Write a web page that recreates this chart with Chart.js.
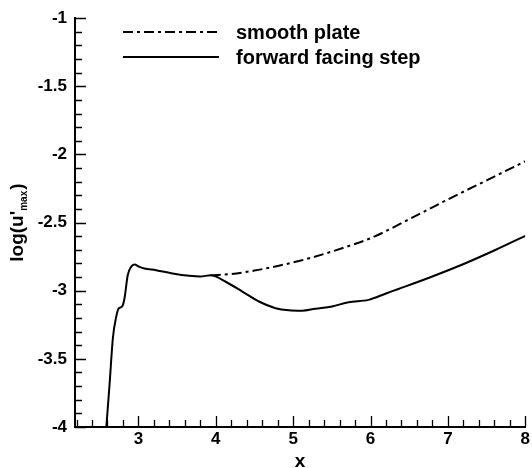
<!DOCTYPE html>
<html>
<head>
<meta charset="utf-8">
<script src="https://cdn.jsdelivr.net/npm/chart.js@4.4.1/dist/chart.umd.min.js"></script>
<style>
  body { margin: 0; background: #fff; }
  #c { display: block; }
</style>
</head>
<body>
<canvas id="c" width="532" height="468"></canvas>
<script>
// values
var stepX = [2.585, 2.627, 2.67, 2.713, 2.745, 2.79, 2.82, 2.862, 2.905, 2.948, 3.013, 3.077, 3.228, 3.442, 3.657, 3.8, 3.935,
             4.128, 4.343, 4.557, 4.772, 4.944, 5.116, 5.287, 5.502, 5.717, 5.974, 6.2, 6.36, 6.79, 7.219, 7.605, 8.0];
var stepY = [-4.0, -3.685, -3.345, -3.19, -3.13, -3.115, -3.055, -2.885, -2.825, -2.808, -2.825, -2.837, -2.849, -2.873, -2.89, -2.895, -2.887,
             -2.934, -3.006, -3.079, -3.128, -3.144, -3.147, -3.132, -3.115, -3.084, -3.067, -3.02, -2.987, -2.897, -2.8, -2.703, -2.597];

var smoothX = [3.935, 4.2, 4.5, 4.8, 5.1, 5.4, 5.7, 6.0, 6.5, 7.0, 7.5, 8.0];
var smoothY = [-2.887, -2.877, -2.852, -2.818, -2.778, -2.73, -2.675, -2.615, -2.475, -2.33, -2.19, -2.05];

var xTicks = [3, 4, 5, 6, 7, 8];
var yTicks = [-4, -3.5, -3, -2.5, -2, -1.5, -1];
var seriesNames = ['smooth plate', 'forward facing step'];

function toPoints(xs, ys) {
    return xs.map(function (x, i) { return {x: x, y: ys[i]}; });
}

var FONT = '"Liberation Sans", Arial, Helvetica, sans-serif';

// inward ticks, axis title with subscript, legend
var decor = {
    id: 'decor',
    afterDraw: function (chart) {
        var c = chart.ctx;
        var xs = chart.scales.x, ys = chart.scales.y;
        var a = chart.chartArea;
        c.save();
        c.strokeStyle = '#000';
        c.lineWidth = 1.3;
        c.beginPath();
        for (var i = 11; i <= 40; i++) {
            var v = i * 0.2;
            var px = Math.round(xs.getPixelForValue(v)) + 0.5;
            var len = (Math.abs(v - Math.round(v)) < 1e-6) ? 11 : 7;
            c.moveTo(px, a.bottom);
            c.lineTo(px, a.bottom - len);
        }
        for (var j = -40; j <= -10; j++) {
            var w = j / 10;
            var py = Math.round(ys.getPixelForValue(w)) + 0.5;
            var len2 = (Math.abs(w * 2 - Math.round(w * 2)) < 1e-6) ? 11 : 7;
            c.moveTo(a.left, py);
            c.lineTo(a.left + len2, py);
        }
        c.stroke();

        // y title: log(u'max)
        c.fillStyle = '#000';
        c.textBaseline = 'alphabetic';
        var big = 'bold 19px ' + FONT, small = 'bold 10px ' + FONT;
        c.font = big;
        var w1 = c.measureText("log(u'").width;
        var w3 = c.measureText(')').width;
        c.font = small;
        var w2 = c.measureText('max').width;
        var total = w1 + w2 + w3 + 1;
        c.translate(23, (a.top + a.bottom) / 2);
        c.rotate(-Math.PI / 2);
        var sx = -total / 2;
        c.font = big;
        c.fillText("log(u'", sx, 0);
        c.font = small;
        c.fillText('max', sx + w1, 4);
        c.font = big;
        c.fillText(')', sx + w1 + w2 + 1, 0);
        c.setTransform(1, 0, 0, 1, 0, 0);

        // legend
        c.font = 'bold 20px ' + FONT;
        c.textBaseline = 'middle';
        var rows = [32, 57];
        [0, 1].forEach(function (k, r) {
            var ds = chart.data.datasets[k];
            c.beginPath();
            c.lineWidth = 2;
            c.setLineDash(ds.borderDash || []);
            c.moveTo(123, rows[r]);
            c.lineTo(219, rows[r]);
            c.stroke();
            c.setLineDash([]);
            c.fillText(ds.label, 236, rows[r] + 1);
        });
        c.restore();
    }
};

new Chart(document.getElementById('c'), {
    type: 'line',
    data: {
        datasets: [
            {
                label: seriesNames[0],
                data: toPoints(smoothX, smoothY),
                borderColor: '#000',
                borderWidth: 2,
                borderDash: [10, 4, 3, 4],
                pointRadius: 0,
                cubicInterpolationMode: 'monotone',
                fill: false
            },
            {
                label: seriesNames[1],
                data: toPoints(stepX, stepY),
                borderColor: '#000',
                borderWidth: 2,
                pointRadius: 0,
                cubicInterpolationMode: 'monotone',
                fill: false
            }
        ]
    },
    options: {
        responsive: false,
        animation: false,
        layout: { padding: { top: 14, right: 4, left: 0, bottom: 0 } },
        plugins: { legend: { display: false }, tooltip: { enabled: false } },
        scales: {
            x: {
                type: 'linear',
                min: 2.18,
                max: 8,
                afterBuildTicks: function (s) { s.ticks = xTicks.map(function (v) { return {value: v}; }); },
                afterFit: function (s) { s.height = 41; },
                grid: { display: false, drawTicks: false },
                border: { display: true, color: '#000', width: 2 },
                ticks: {
                    color: '#000', padding: 2, maxRotation: 0, autoSkip: false,
                    font: { family: FONT, size: 17, weight: 'bold' },
                    callback: function (v) { return String(v); }
                },
                title: {
                    display: true, text: 'x', color: '#000', padding: { top: 0, bottom: -5 },
                    font: { family: FONT, size: 19, weight: 'bold' }
                }
            },
            y: {
                type: 'linear',
                min: -4,
                max: -1,
                afterBuildTicks: function (s) { s.ticks = yTicks.map(function (v) { return {value: v}; }); },
                afterFit: function (s) { s.width = 75; },
                grid: { display: false, drawTicks: false },
                border: { display: true, color: '#000', width: 2 },
                ticks: {
                    color: '#000', padding: 8, autoSkip: false,
                    font: { family: FONT, size: 17, weight: 'bold' },
                    callback: function (v) { return String(v); }
                }
            }
        }
    },
    plugins: [decor]
});
</script>
</body>
</html>
